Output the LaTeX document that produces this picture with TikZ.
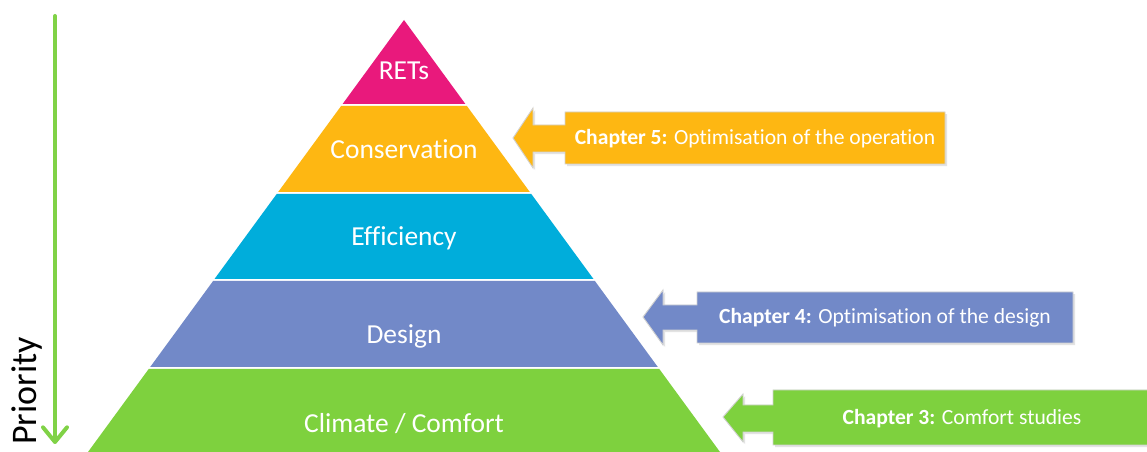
\documentclass[tikz,border=0pt]{standalone}
\usepackage{fontspec}
\setmainfont{Carlito}[Ligatures=NoCommon]
\usetikzlibrary{arrows.meta,shadows}
\definecolor{cRET}{RGB}{233,25,124}
\definecolor{cCons}{RGB}{254,183,18}
\definecolor{cEff}{RGB}{0,173,219}
\definecolor{cDes}{RGB}{114,137,200}
\definecolor{cClim}{RGB}{126,209,62}
\definecolor{cPrio}{RGB}{128,210,70}
\begin{document}
\begin{tikzpicture}[x=0.75pt,y=-0.75pt]
\tikzset{
  lvl/.style={text=white,font=\fontsize{20.6}{24}\selectfont,inner sep=0pt},
  chap/.style={text=white,font=\fontsize{16.2}{19}\selectfont,inner sep=0pt},
  callout/.style={draw=white!82!black,line width=0.7pt,
    drop shadow={opacity=0.22,shadow xshift=1.6pt,shadow yshift=-1.6pt}},
  prio/.style={draw=cPrio,line width=3pt,line cap=round,
    -{Straight Barb[length=11pt,width=18pt,line width=3pt,round]}},
}
\useasboundingbox (0,0) rectangle (1147,452);
\fill[white] (0,0) rectangle (1147,452);

% pyramid bands
\fill[cRET]  (404,20) -- (465.4,104) -- (342.6,104) -- cycle;
\fill[cCons] (341.1,106) -- (466.9,106) -- (529.8,192) -- (278.2,192) -- cycle;
\fill[cEff]  (276.7,194) -- (531.3,194) -- (593.5,279) -- (214.5,279) -- cycle;
\fill[cDes]  (213.1,281) -- (594.9,281) -- (657.8,367) -- (150.2,367) -- cycle;
\fill[cClim] (148.7,369) -- (659.3,369) -- (720,452) -- (88,452) -- cycle;

\node[lvl] (rets) at (404,71)  {RETs};
\node[lvl] (cons) at (404,149) {Conservation};
\node[lvl] (eff)  at (404,238) {Efficiency};
\node[lvl] (des)  at (404,336) {Design};
\node[lvl] (clim) at (404,424) {Climate / Comfort};

% priority arrow
\coordinate (ptop) at (55,16);
\coordinate (pbot) at (55,444);
\draw[prio] (ptop) -- (pbot);
\node[rotate=90,font=\fontsize{27}{30}\selectfont,inner sep=0pt] (prlabel) at (27,391) {Priority};

% chapter callouts
\path[callout,fill=cCons] (945,112) -- (565,112) -- (565,125) -- (533,125) -- (533,108)
  -- (513,138) -- (533,168) -- (533,152) -- (565,152) -- (565,164) -- (945,164) -- cycle;
\node[chap] (ch5) at (755,139) {\textbf{Chapter 5:} Optimisation of the operation};

\path[callout,fill=cDes] (1073,292) -- (697,292) -- (697,305) -- (663,305) -- (663,290)
  -- (643,317) -- (663,345) -- (663,330) -- (697,330) -- (697,343) -- (1073,343) -- cycle;
\node[chap] (ch4) at (885,318) {\textbf{Chapter 4:} Optimisation of the design};

\path[callout,fill=cClim] (1152,390) -- (773,390) -- (773,405) -- (743,405) -- (743,394)
  -- (723,417) -- (743,442) -- (743,432) -- (773,432) -- (773,445) -- (1152,445) -- cycle;
\node[chap] (ch3) at (962,419) {\textbf{Chapter 3:} Comfort studies};
\end{tikzpicture}
\end{document}
